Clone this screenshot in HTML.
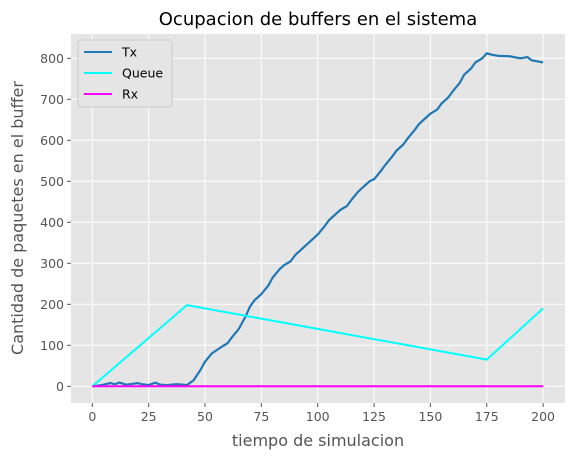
<!DOCTYPE html>
<html><head><meta charset="utf-8"><style>
body{margin:0;background:#fff;font-family:"Liberation Sans","DejaVu Sans",sans-serif}
svg text{font-family:"DejaVu Sans","Liberation Sans",sans-serif}
</style></head><body>
<svg id="c" width="575" height="460"></svg>
<script>
const txT=[0,3,5,8,10,12,15,18,20,22,25,28,30,33,35,38,42,45,48,50,53,57,60,62,65,68,70,72,75,78,80,83,85,88,90,93,95,98,100,103,105,108,110,113,115,118,120,123,125,128,130,133,135,138,140,143,145,148,150,153,155,158,160,163,165,168,170,173,175,178,180,185,190,193,195,200];
const txV=[0,2,4,8,5,9,4,6,8,5,3,9,4,3,4,5,3,15,40,60,80,95,105,120,140,170,195,210,225,245,265,285,295,305,320,335,345,360,370,390,405,420,430,440,455,475,485,500,505,525,540,560,575,590,605,625,640,655,665,675,690,705,720,740,760,775,790,800,812,808,806,805,800,803,795,790];
const qT=[0,42,175,200];
const qV=[0,198,65,190];
const rxT=[0,200];
const rxV=[0,0];
const xTicks=[0,25,50,75,100,125,150,175,200];
const yTicks=[0,100,200,300,400,500,600,700,800];
const NS="http://www.w3.org/2000/svg";
const svg=document.getElementById('c');
const L=71,R=565,T=34,B=403;
const X=v=>92.3+v*2.254, Y=v=>386.3-v*0.41;
function el(t,a,p){const e=document.createElementNS(NS,t);for(const k in a)e.setAttribute(k,a[k]);(p||svg).appendChild(e);return e;}
const bg=el('rect',{x:L,y:T,width:R-L,height:B-T,fill:'#e5e5e5'});


xTicks.forEach(v=>{
 const g=el('line',{x1:X(v),x2:X(v),y1:T,y2:B,stroke:'#fff','stroke-width':1});
 
 
 el('line',{x1:X(v),x2:X(v),y1:B,y2:B+4,stroke:'#555'});
 const t=el('text',{x:X(v),y:B+18,'text-anchor':'middle','font-size':12.5,fill:'#555'});t.textContent=v;
 
 
});
yTicks.forEach(v=>{
 const g=el('line',{x1:L,x2:R,y1:Y(v),y2:Y(v),stroke:'#fff','stroke-width':1});
 
 
 el('line',{x1:L-4,x2:L,y1:Y(v),y2:Y(v),stroke:'#555'});
 const t=el('text',{x:L-7,y:Y(v)+4.5,'text-anchor':'end','font-size':12.5,fill:'#555'});t.textContent=v;
 
 
});
function line(ts,vs,c,name,w){
 const p=el('polyline',{points:ts.map((t,i)=>X(t)+','+Y(vs[i])).join(' '),fill:'none',stroke:c,'stroke-width':w,'stroke-linejoin':'round'});
 
 
}
line(txT,txV,'#1f77b4','tx-line',2.2);
line(qT,qV,'#00ffff','queue-line',2);
line(rxT,rxV,'#ff00ff','rx-line',2);
const title=el('text',{x:318,y:25,'text-anchor':'middle','font-size':18,fill:'#000'});title.textContent='Ocupacion de buffers en el sistema';


const xl=el('text',{x:318,y:446,'text-anchor':'middle','font-size':16,fill:'#555'});xl.textContent='tiempo de simulacion';


const yl=el('text',{x:0,y:0,'text-anchor':'middle','font-size':16,fill:'#555',transform:'translate(23,218) rotate(-90)'});yl.textContent='Cantidad de paquetes en el buffer';


const lg=el('rect',{x:78,y:40,width:94,height:67,fill:'#e5e5e5',stroke:'#ccc',rx:3});


[['Tx','#1f77b4'],['Queue','#00ffff'],['Rx','#ff00ff']].forEach((d,i)=>{
 const y=52+i*21;
 el('line',{x1:84,x2:112,y1:y,y2:y,stroke:d[1],'stroke-width':2});
 const t=el('text',{x:122,y:y+4.5,'font-size':12.5,fill:'#000'});t.textContent=d[0];
 
 
});
</script>
</body></html>
